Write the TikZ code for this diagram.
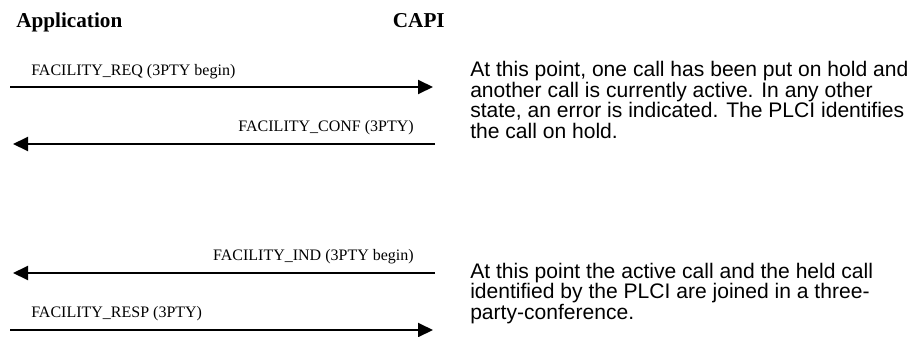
\documentclass[tikz,border=0pt]{standalone}
\usepackage{fontspec}
\setmainfont{Liberation Serif}
\newfontfamily\arialfont{Liberation Sans}
\usetikzlibrary{arrows.meta}
\tikzset{
  msg/.style={line width=1.5pt, -{Triangle[length=11.25pt,width=10.5pt]}},
  lbl/.style={inner sep=0pt, font=\fontsize{12pt}{14pt}\selectfont},
  head/.style={inner sep=0pt, anchor=base, font=\fontsize{15.9pt}{18pt}\selectfont\bfseries},
  note/.style={inner sep=0pt, anchor=base west, align=left, font=\arialfont\fontsize{15.8pt}{15.35pt}\selectfont}
}
\begin{document}
\begin{tikzpicture}[x=0.75pt,y=-0.75pt]
\useasboundingbox (0,0) rectangle (915,336);
% headings
\node[head, anchor=base west] (app) at (16,27) {Application};
\node[head, anchor=base east] (capi) at (445,27) {CAPI};
% endpoints
\coordinate (a1s) at (10,87);  \coordinate (a1e) at (433,87);
\coordinate (a2s) at (435,144); \coordinate (a2e) at (13,144);
\coordinate (a3s) at (435,273); \coordinate (a3e) at (13,273);
\coordinate (a4s) at (10,330); \coordinate (a4e) at (433,330);
\draw[msg] (a1s) -- (a1e);
\draw[msg] (a2s) -- (a2e);
\draw[msg] (a3s) -- (a3e);
\draw[msg] (a4s) -- (a4e);
% labels
\node[lbl, anchor=base west] (l1) at (31,75) {FACILITY\_REQ (3PTY begin)};
\node[lbl, anchor=base east] (l2) at (414,131) {FACILITY\_CONF (3PTY)};
\node[lbl, anchor=base east] (l3) at (414,260) {FACILITY\_IND (3PTY begin)};
\node[lbl, anchor=base west] (l4) at (31,317) {FACILITY\_RESP (3PTY)};
% notes (base anchor = baseline of last line)
\node[note] (n1) at (470,138) {At this point, one call has been put on hold and\\another call is currently active. In any other\\state, an error is indicated. The PLCI identifies\\the call on hold.};
\node[note] (n2) at (470,319) {At this point the active call and the held call\\identified by the PLCI are joined in a three-\\party-conference.};
\end{tikzpicture}
\end{document}
